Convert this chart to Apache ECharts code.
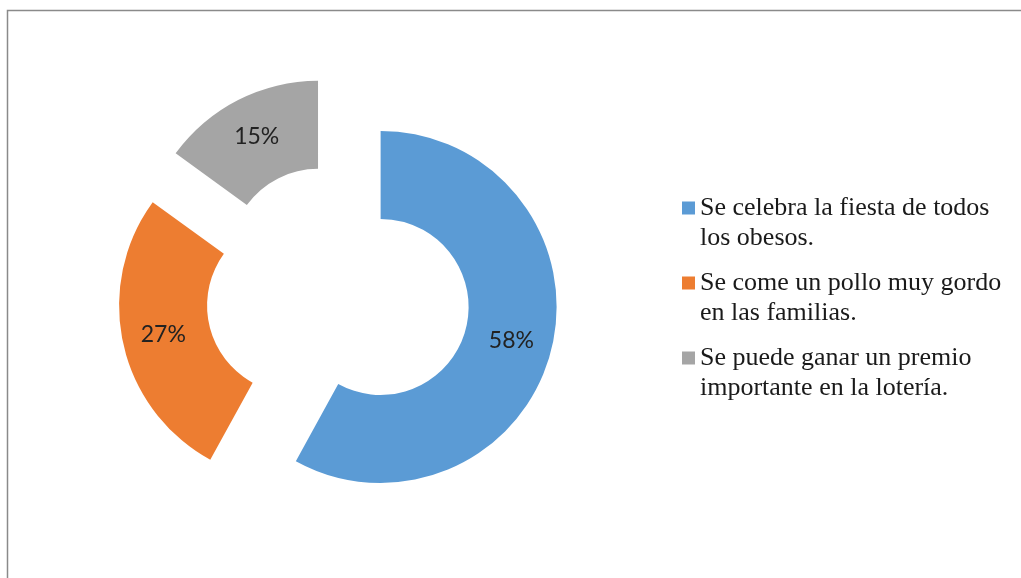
<!DOCTYPE html>
<html>
<head>
<meta charset="utf-8">
<script src="https://cdn.jsdelivr.net/npm/echarts@6/dist/echarts.min.js"></script>
<style>
  html, body { margin: 0; padding: 0; background: #ffffff; }
  #chart { width: 1021px; height: 578px; }
</style>
</head>
<body>
<div id="chart"></div>
<script>
// Answers and their shares (percent)
const categories = [
  'Se celebra la fiesta de todos\nlos obesos.',
  'Se come un pollo muy gordo\nen las familias.',
  'Se puede ganar un premio\nimportante en la lotería.'
];
const shares = [58, 27, 15];
const colors = ['#5B9BD5', '#ED7D31', '#A5A5A5'];

const chart = echarts.init(document.getElementById('chart'), null, { renderer: 'canvas' });

chart.setOption({
  animation: false,
  backgroundColor: '#ffffff',
  color: colors,
  graphic: [
    {
      type: 'polyline',
      silent: true,
      shape: { points: [[7.5, 578], [7.5, 10.5], [1021, 10.5]] },
      style: { stroke: '#8a8a8a', lineWidth: 1.5, fill: null }
    }
  ],
  legend: {
    orient: 'vertical',
    left: 682,
    top: 163,
    padding: 0,
    itemGap: -15,
    itemWidth: 13,
    itemHeight: 13,
    icon: 'rect',
    selectedMode: false,
    // a leading blank line keeps the marker level with the first text line
    formatter: name => '\n' + name,
    textStyle: {
      fontFamily: '"Liberation Serif", "Times New Roman", serif',
      fontSize: 26,
      lineHeight: 30,
      color: '#1a1a1a'
    },
    data: categories
  },
  series: [
    {
      type: 'pie',
      center: [338, 296],
      radius: [88, 176],
      startAngle: 90,
      clockwise: true,
      selectedMode: 'multiple',
      selectedOffset: 44,
      avoidLabelOverlap: false,
      emphasis: { disabled: true },
      label: {
        show: true,
        position: 'inside',
        formatter: '{c}%',
        fontFamily: 'Lato, "Open Sans", sans-serif',
        fontSize: 23,
        color: '#222222'
      },
      labelLine: { show: false },
      itemStyle: { borderWidth: 0 },
      data: categories.map((name, i) => ({ name: name, value: shares[i], selected: true }))
    }
  ]
});
</script>
</body>
</html>
